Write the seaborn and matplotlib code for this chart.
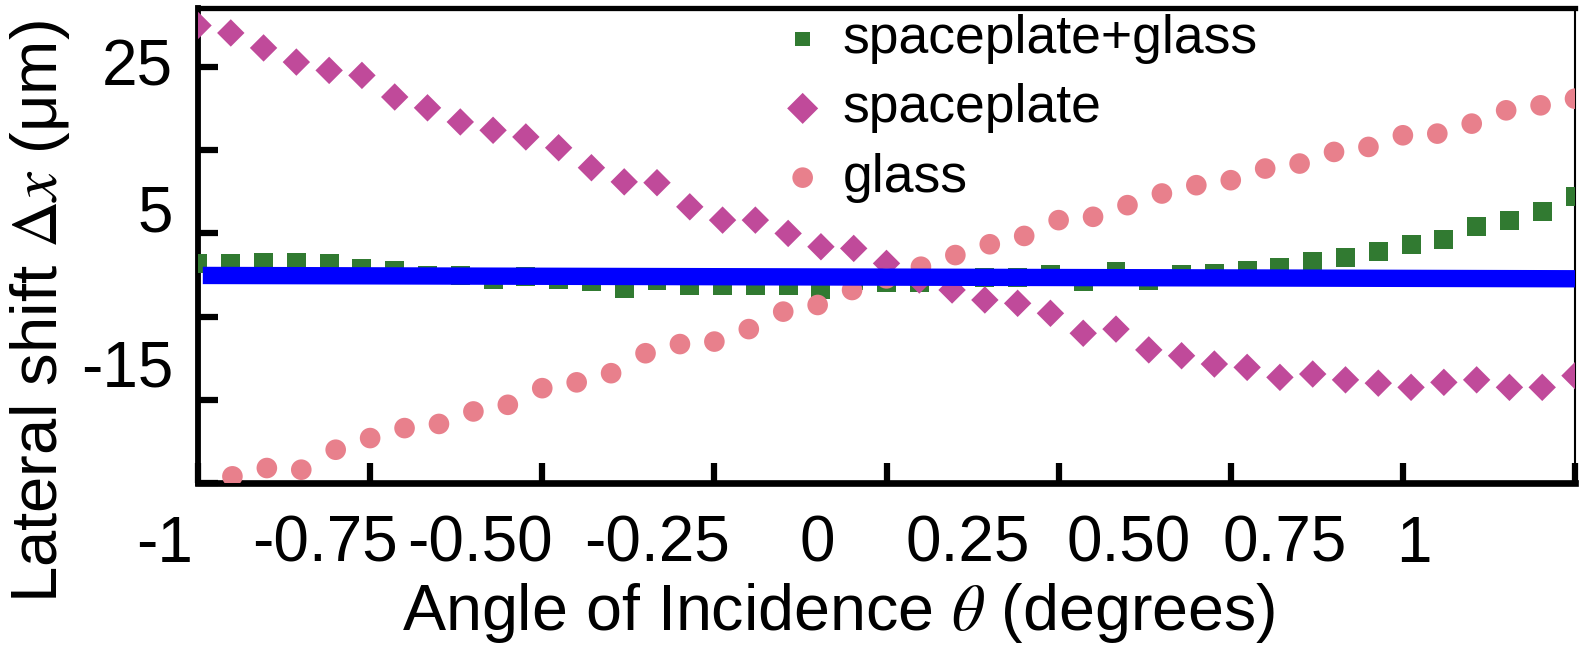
import numpy as np
import seaborn as sns
import matplotlib.pyplot as plt

# angle grids (degrees)
angles_sp = np.linspace(-1, 1, 43)
angles_glass = np.linspace(-1, 1, 41)

# lateral shift (um)
spaceplate_glass = [1.4, 1.4, 1.5, 1.5, 1.4, 0.75, 0.55, 0.0, -0.1, -0.6,
                    -0.2, -0.6, -0.8, -1.6, -0.7, -1.3, -1.3, -1.3, -1.3, -1.7,
                    -0.7, -0.9, -0.9, -0.4, -0.3, -0.3, 0.1, -0.8, 0.4, -0.7,
                    0.1, 0.15, 0.55, 0.9, 1.6, 2.1, 2.8, 3.7, 4.3, 5.8,
                    6.6, 7.6, 9.4]
spaceplate = [30.0, 29.1, 27.3, 25.6, 24.6, 24.0, 21.4, 20.1, 18.4, 17.4,
              16.6, 15.3, 12.9, 11.2, 11.1, 8.2, 6.6, 6.6, 5.0, 3.4,
              3.2, 1.4, -0.6, -1.8, -3.0, -3.4, -4.6, -7.0, -6.5, -9.0,
              -9.7, -10.7, -11.1, -12.3, -11.9, -12.6, -13.0, -13.5, -12.9, -12.6,
              -13.5, -13.5, -12.1]
glass = [-26.5, -24.2, -23.2, -23.4, -21.0, -19.6, -18.4, -17.9, -16.4, -15.6,
         -13.6, -12.9, -11.8, -9.4, -8.3, -8.0, -6.5, -4.4, -3.6, -1.8,
         -0.4, 1.0, 2.4, 3.7, 4.7, 6.6, 7.0, 8.4, 9.8, 10.8,
         11.4, 12.8, 13.4, 14.8, 15.4, 16.8, 17.0, 18.2, 19.8, 20.4,
         21.2]

# reference line
baseline_x = [-0.993, 1.0]
baseline_y = [-0.05, -0.45]

# tick marks and (offset) tick labels as in the original figure
xtick_marks = [-1, -0.75, -0.5, -0.25, 0, 0.25, 0.5, 0.75, 1]
xtick_labels = ['-1', '-0.75', '-0.50', '-0.25', '0', '0.25', '0.50', '0.75', '1']
xtick_label_at = [-1.048, -0.815, -0.590, -0.333, -0.100, 0.118, 0.352, 0.578, 0.766]
ytick_marks = [25, 15, 5, -5, -15, -25]
ytick_labels = ['25', '5', '-15']
ytick_label_at = [25.6, 8.1, -10.6]

sns.set_style('white')
plt.rcParams['font.family'] = ['Liberation Sans', 'DejaVu Sans']
plt.rcParams['mathtext.fontset'] = 'stix'
plt.rcParams['text.color'] = 'black'
plt.rcParams['axes.labelcolor'] = 'black'
plt.rcParams['xtick.color'] = 'black'
plt.rcParams['ytick.color'] = 'black'

fig = plt.figure(figsize=(15.81, 6.45), dpi=100)
ax = fig.add_axes([198 / 1581, 1 - 483 / 645, 1377 / 1581, 475 / 645])

sns.scatterplot(x=angles_sp, y=spaceplate_glass, marker='s', s=185,
                color='#317a31', edgecolor='none', label='spaceplate+glass',
                ax=ax, zorder=3)
sns.scatterplot(x=angles_sp, y=spaceplate, marker='D', s=195,
                color='#c04a9a', edgecolor='none', label='spaceplate',
                ax=ax, zorder=4)
sns.scatterplot(x=angles_glass, y=glass, marker='o', s=220,
                color='#e8808c', edgecolor='none', label='glass',
                ax=ax, zorder=5)
sns.lineplot(x=baseline_x, y=baseline_y, color='#0000ff', linewidth=12.5,
             solid_capstyle='butt', ax=ax, zorder=6)

ax.set_xlim(-1, 1)
ax.set_ylim(-25, 32.1)

# tick marks (no labels)
ax.set_xticks(xtick_marks, minor=True)
ax.set_yticks(ytick_marks, minor=True)
ax.set_xticks([])
ax.tick_params(which='minor', direction='in', length=14.5, width=4.5,
               color='black', labelleft=False, labelbottom=False)
ax.xaxis.set_tick_params(which='minor', bottom=True)
ax.yaxis.set_tick_params(which='minor', left=True)

# y tick labels
ax.set_yticks(ytick_label_at, ytick_labels)
ax.tick_params(axis='y', which='major', length=0, pad=18, labelsize=46,
               labelcolor='black')

# x tick labels
for pos, lab in zip(xtick_label_at, xtick_labels):
    ax.text(pos, -0.1663, lab, transform=ax.get_xaxis_transform(),
            ha='center', va='baseline', fontsize=46, color='black', clip_on=False)

for side, lw in [('left', 4.2), ('bottom', 4.8), ('top', 3.8), ('right', 1.5)]:
    ax.spines[side].set_linewidth(lw)
    ax.spines[side].set_color('black')

ax.set_xlabel(r'Angle of Incidence $\theta$ (degrees)', fontsize=46.5,
              va='baseline', color='black')
ax.xaxis.set_label_coords(0.4655, -0.3095)
ax.set_ylabel(r'Lateral shift $\Delta x$ (μm)', fontsize=47, va='center',
              color='black')
ax.yaxis.set_label_coords(-0.1147, 0.36)

leg = ax.legend(loc='upper left', bbox_to_anchor=(0.4197, 0.987), frameon=False,
                fontsize=38.5, handletextpad=0.25, labelspacing=0.36, borderpad=0,
                borderaxespad=0, handlelength=1.0)
for h, sz in zip(leg.legend_handles, [110, 250, 220]):
    h.set_sizes([sz])

fig.savefig('out.png', dpi=100)
